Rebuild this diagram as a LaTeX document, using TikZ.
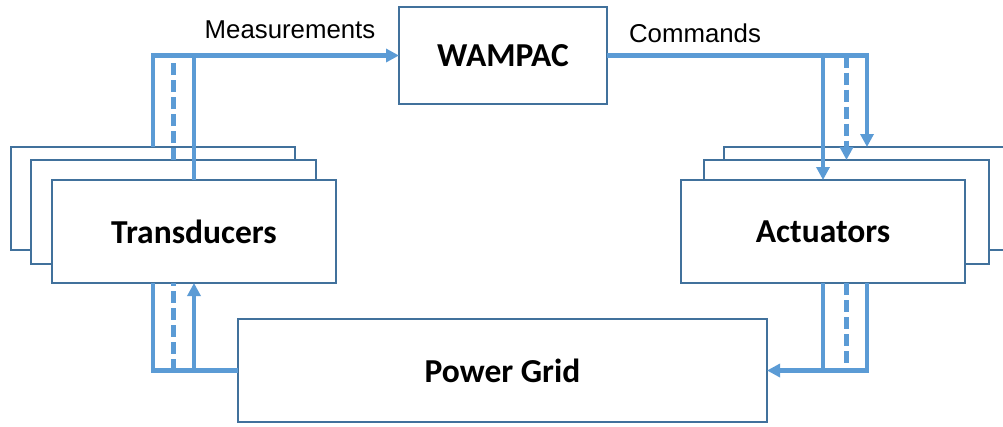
\documentclass[tikz,border=0pt]{standalone}
\usepackage{fontspec}
\setmainfont{Carlito}
\newfontfamily\labelfont{Liberation Sans}
\usetikzlibrary{positioning, arrows.meta}

\definecolor{boxedge}{RGB}{65,113,156}
\definecolor{linkblue}{RGB}{91,155,213}

\begin{document}
\begin{tikzpicture}[
    x=1pt, y=-1pt,
    block/.style={draw=boxedge, line width=1.5pt, fill=white, inner sep=0pt, outer sep=0pt, font=\fontsize{33.5}{38}\selectfont\bfseries},
    link/.style={draw=linkblue, line width=4.5pt},
    dashlink/.style={link, dash pattern=on 12pt off 5pt},
    tip/.style={-{Triangle[length=13pt, width=13pt]}},
]
\useasboundingbox (0,0) rectangle (1003,426);

% Positions
\node[block, minimum width=208pt, minimum height=97pt] (wampac) at (503,55.5) {WAMPAC};
\node[block, minimum width=284pt, minimum height=103pt] (trans3) at (153,198.5) {};
\node[block, minimum width=285pt, minimum height=104pt] (trans2) at (173.5,212) {};
\node[block, minimum width=284pt, minimum height=103pt] (trans) at (194,231.5) {\raisebox{-1.5pt}{Transducers}};
\node[block, minimum width=286pt, minimum height=103pt] (act3) at (867,198.5) {};
\node[block, minimum width=285pt, minimum height=104pt] (act2) at (846.5,212) {};
\node[block, minimum width=284pt, minimum height=103pt] (act) at (823,231.5) {\raisebox{-2pt}{Actuators}};
\node[block, minimum width=529pt, minimum height=103pt] (grid) at (502.5,370.5) {\raisebox{-1.5pt}{Power Grid}};
\node[font=\labelfont\fontsize{25.8}{30}\selectfont] (meas) at (290,29.5) {Measurements};
\node[font=\labelfont\fontsize{25.8}{30}\selectfont] (cmds) at (695,33.5) {Commands};

% Linie: Transducers -> WAMPAC
\draw[link, tip] (trans3.north) |- (wampac.west);
\draw[dashlink] (trans2.north) -- (trans2.north |- wampac.west);
\draw[link] (trans.north) -- (trans.north |- wampac.west);

% WAMPAC -> Actuators
\draw[link, tip] (wampac.east) -| (act3.north);
\draw[dashlink, tip] (act2.north |- wampac.east) -- (act2.north);
\draw[link, tip] (act.north |- wampac.east) -- (act.north);

% Actuators -> Power Grid
\draw[link, tip] (act3.north |- act.south) |- (grid.east);
\draw[dashlink] (act2.north |- act.south) -- (act2.north |- grid.east);
\draw[link] (act.south) -- (act.south |- grid.east);

% Power Grid -> Transducers
\draw[link] (grid.west) -| (trans3.north |- trans.south);
\draw[dashlink] (trans2.north |- grid.west) -- (trans2.north |- trans.south);
\draw[link, tip] (trans.south |- grid.west) -- (trans.south);

\end{tikzpicture}
\end{document}
